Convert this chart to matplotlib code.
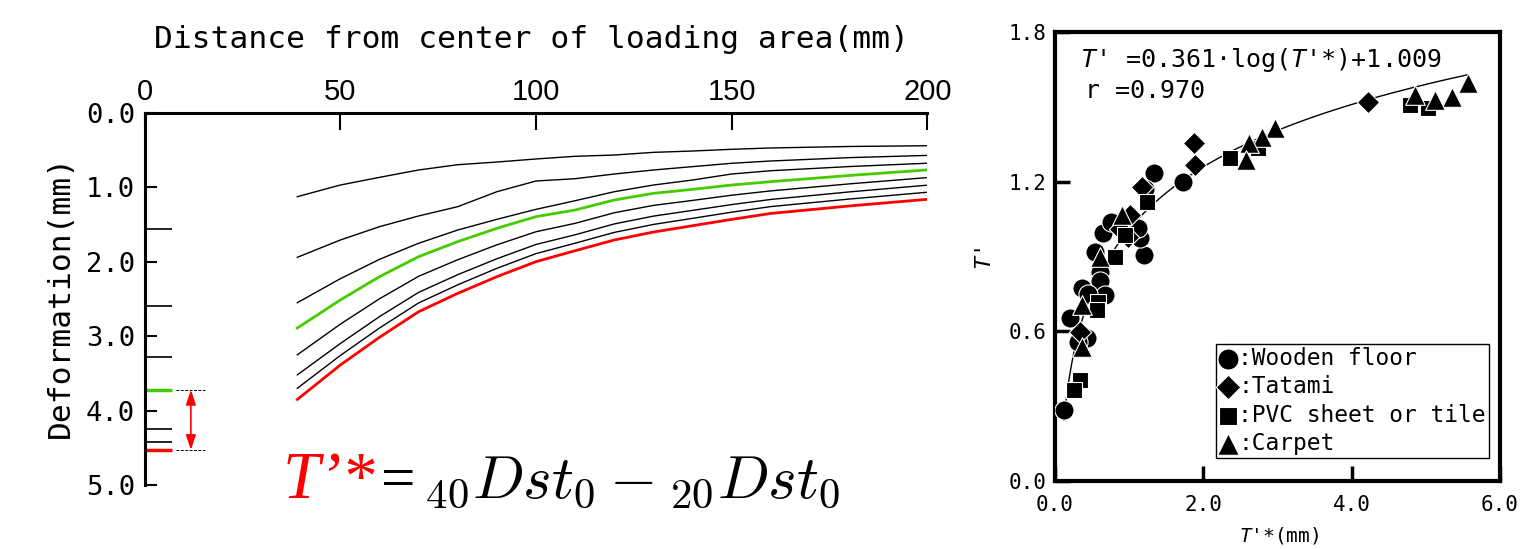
import matplotlib
matplotlib.use("Agg")
import matplotlib.pyplot as plt
import numpy as np

W, H = 1521, 549

# ---- left panel: deformation profiles (mm) vs distance from load centre ----
DIST_MM = [39, 50, 60, 70, 80, 90, 100, 110, 120, 130, 140, 150, 160, 180, 200]

PROFILE_1 = [1.125, 0.968, 0.865, 0.766, 0.695, 0.659, 0.618, 0.582, 0.565,
             0.529, 0.511, 0.488, 0.470, 0.450, 0.440]
PROFILE_2 = [1.94, 1.707, 1.528, 1.384, 1.259, 1.058, 0.914, 0.883, 0.820,
             0.766, 0.721, 0.676, 0.645, 0.600, 0.570]
PROFILE_3 = [2.55, 2.227, 1.967, 1.751, 1.573, 1.429, 1.295, 1.179, 1.058,
             0.968, 0.901, 0.820, 0.776, 0.720, 0.675]
PROFILE_GREEN = [2.89, 2.513, 2.200, 1.931, 1.729, 1.550, 1.393, 1.304, 1.169,
                 1.080, 1.026, 0.968, 0.923, 0.840, 0.765]
PROFILE_4 = [3.25, 2.838, 2.497, 2.195, 1.972, 1.772, 1.596, 1.483, 1.341,
             1.242, 1.175, 1.105, 1.047, 0.953, 0.868]
PROFILE_5 = [3.52, 3.098, 2.737, 2.411, 2.173, 1.959, 1.767, 1.637, 1.491,
             1.386, 1.309, 1.231, 1.162, 1.061, 0.970]
PROFILE_6 = [3.70, 3.259, 2.890, 2.553, 2.309, 2.088, 1.890, 1.750, 1.605,
             1.498, 1.416, 1.333, 1.258, 1.157, 1.065]
PROFILE_RED = [3.85, 3.387, 3.015, 2.671, 2.424, 2.200, 1.998, 1.851, 1.707,
               1.600, 1.515, 1.430, 1.350, 1.250, 1.160]

PROFILES = [PROFILE_1, PROFILE_2, PROFILE_3, PROFILE_GREEN,
            PROFILE_4, PROFILE_5, PROFILE_6, PROFILE_RED]
PROFILE_COLORS = ["black", "black", "black", "#44cc00",
                  "black", "black", "black", "#ff0000"]

# marks on the deformation axis
SIDE_MARKS = [1.56, 2.59, 3.28, 4.25, 4.42]
GREEN_LEVEL = 3.72
RED_LEVEL = 4.53

# ---- right panel: T' vs T'* by floor type ---------------------------------
WOOD_X = [0.12, 1.33, 1.73, 1.20, 1.15, 1.12, 0.65, 0.76, 0.61, 0.61,
          0.36, 0.67, 0.20, 0.43, 0.31, 0.54, 0.45, 1.22]
WOOD_Y = [0.285, 1.234, 1.198, 0.906, 0.973, 1.013, 0.993, 1.04, 0.839, 0.80,
          0.773, 0.746, 0.652, 0.572, 0.559, 0.92, 0.75, 1.17]
TATAMI_X = [1.89, 1.87, 4.22, 1.17, 0.99, 0.88, 0.34, 1.01]
TATAMI_Y = [1.267, 1.354, 1.518, 1.18, 0.98, 1.01, 0.599, 1.067]
PVC_X = [1.24, 0.81, 0.58, 0.56, 0.34, 0.25, 2.36, 4.79, 5.03, 2.74, 0.94]
PVC_Y = [1.12, 0.90, 0.719, 0.686, 0.405, 0.365, 1.294, 1.508, 1.494, 1.334, 0.986]
CARPET_X = [5.57, 5.35, 5.12, 4.85, 2.97, 2.79, 2.61, 2.58, 0.90, 0.61, 0.36, 0.36]
CARPET_Y = [1.595, 1.541, 1.528, 1.548, 1.414, 1.380, 1.354, 1.287, 1.067, 0.90,
            0.706, 0.539]

FIT_SLOPE = 0.361
FIT_INTERCEPT = 1.009
FIT_R = 0.970

MONO = "DejaVu Sans Mono"
plt.rcParams["font.family"] = [MONO]
plt.rcParams["mathtext.fontset"] = "custom"
plt.rcParams["mathtext.rm"] = MONO
plt.rcParams["mathtext.it"] = MONO + ":italic"


def fx(px):
    return px / W


def fy(py):
    return 1 - py / H


fig = plt.figure(figsize=(W / 100, H / 100), dpi=100)

# ================= left panel =================
ax = fig.add_axes([fx(144.7), fy(485), (927.3 - 144.7) / W, (485 - 113) / H])
ax.set_xlim(0, 200)
ax.set_ylim(5, 0)

for vals, col in zip(PROFILES, PROFILE_COLORS):
    lw = 2.0 if col != "black" else 1.0
    ax.plot(DIST_MM, vals, color=col, lw=lw, zorder=3 if col != "black" else 2)

for s in ["bottom", "right"]:
    ax.spines[s].set_visible(False)
ax.spines["left"].set_linewidth(2.2)
ax.spines["top"].set_linewidth(2.2)

ax.xaxis.tick_top()
ax.set_xticks([0, 50, 100, 150, 200])
ax.tick_params(axis="x", direction="in", length=12, width=1.5, pad=5,
               labelsize=21, labelfontfamily="Liberation Sans")
ax.set_yticks([0, 1, 2, 3, 4, 5])
ax.set_yticklabels([f"{v:.1f}" for v in [0, 1, 2, 3, 4, 5]])
ax.set_yticks(SIDE_MARKS, minor=True)
ax.tick_params(axis="y", which="major", direction="in", length=8.5, width=1.5,
               pad=7, labelsize=19.5)
ax.tick_params(axis="y", which="minor", direction="in", length=19.5, width=1.2)

ytr = ax.get_yaxis_transform()
tick_frac = 27 / (927.3 - 144.7)
for lvl, col in [(GREEN_LEVEL, "#44cc00"), (RED_LEVEL, "#ff0000")]:
    ax.plot([0, tick_frac], [lvl, lvl], color=col, lw=2.5, transform=ytr,
            clip_on=False, solid_capstyle="butt")
    ax.plot([0.040, 0.077], [lvl, lvl], color="black", lw=0.7, ls=(0, (3, 1.5)),
            transform=ytr, clip_on=False)
ax.annotate("", xy=(0.059, RED_LEVEL), xytext=(0.059, GREEN_LEVEL),
            xycoords=ytr, textcoords=ytr,
            arrowprops=dict(arrowstyle="<|-|>,head_length=0.9,head_width=0.3",
                            color="#ff0000", lw=1.2, shrinkA=0, shrinkB=0))

fig.text(fx(532), fy(40), "Distance from center of loading area(mm)",
         ha="center", va="center", fontsize=22.5)
fig.text(fx(60), fy(296), "Deformation(mm)", ha="center", va="center",
         rotation=90, fontsize=22.5)

# T'* = 40Dst0 - 20Dst0
fig.text(fx(283), fy(498), "T\u2019*", color="#ff0000", fontsize=48,
         family="Liberation Serif", style="italic", va="baseline")
fig.text(fx(381), fy(498), "=", fontsize=44, family="Liberation Serif",
         va="baseline")
fig.text(fx(423), fy(498), r"${}_{40}Dst_0 - {}_{20}Dst_0$", fontsize=44,
         math_fontfamily="cm", va="baseline")

# ================= right panel =================
ax2 = fig.add_axes([fx(1055), fy(481), (1500 - 1055) / W, (481 - 32) / H])
ax2.set_xlim(0, 6)
ax2.set_ylim(0, 1.8)

xf = np.linspace(min(WOOD_X), max(CARPET_X), 200)
ax2.plot(xf, FIT_SLOPE * np.log(xf) + FIT_INTERCEPT, color="black", lw=1.0, zorder=1)

mk = dict(color="black", edgecolors="white", linewidths=0.8, zorder=3)
h_wood = ax2.scatter(WOOD_X, WOOD_Y, marker="o", s=190, **mk)
h_tat = ax2.scatter(TATAMI_X, TATAMI_Y, marker="D", s=130, **mk)
h_pvc = ax2.scatter(PVC_X, PVC_Y, marker="s", s=140, **mk)
h_car = ax2.scatter(CARPET_X, CARPET_Y, marker="^", s=200, **mk)

for s in ax2.spines.values():
    s.set_linewidth(3)
ax2.set_xticks([0, 2, 4, 6])
ax2.set_xticklabels([f"{v:.1f}" for v in [0, 2, 4, 6]])
ax2.set_yticks([0, 0.6, 1.2, 1.8])
ax2.set_yticklabels([f"{v:.1f}" for v in [0, 0.6, 1.2, 1.8]])
ax2.tick_params(direction="in", length=11, width=2.5, labelsize=15)
ax2.tick_params(axis="x", pad=10)
ax2.tick_params(axis="y", pad=6)

ax2.text((1080 - 1055) / 445, 1 - (60 - 32) / 449,
         r"$\mathit{T}$' =%.3f$\cdot$log($\mathit{T}$'*)+%.3f" % (FIT_SLOPE, FIT_INTERCEPT),
         transform=ax2.transAxes, fontsize=18, va="center", ha="left")
ax2.text((1085 - 1055) / 445, 1 - (91 - 32) / 449, f"r ={FIT_R:.3f}",
         transform=ax2.transAxes, fontsize=18, va="center", ha="left")

leg = ax2.legend([h_wood, h_tat, h_pvc, h_car],
                 [":Wooden floor", ":Tatami", ":PVC sheet or tile", ":Carpet"],
                 loc="lower right", bbox_to_anchor=(1 - 11 / 445, 23 / 449),
                 frameon=True, fancybox=False, edgecolor="black", framealpha=1,
                 handlelength=0.7, handletextpad=0.1, borderpad=0.15,
                 labelspacing=0.22, borderaxespad=0, markerscale=1.1,
                 prop={"size": 16.5})
leg.get_frame().set_linewidth(1.0)

fig.text(fx(985), fy(258), r"$\mathit{T}$'", rotation=90, ha="center",
         va="center", fontsize=16)
fig.text(fx(1279), fy(536), r"$\mathit{T}$'*(mm)", ha="center", va="center",
         fontsize=14)

fig.savefig("out.png", dpi=100)
